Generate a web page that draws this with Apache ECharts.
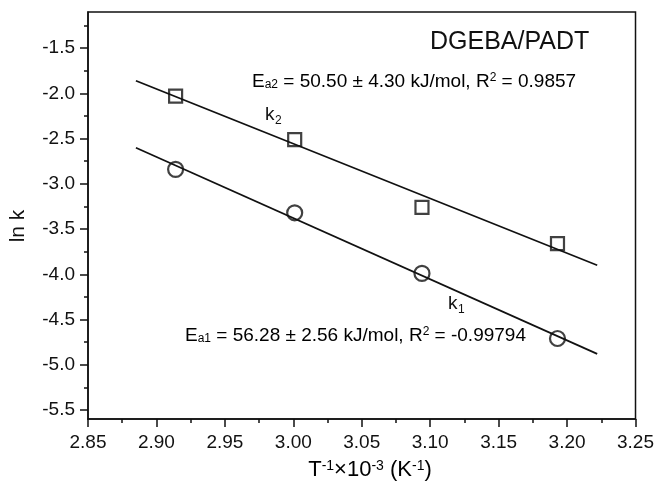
<!DOCTYPE html>
<html>
<head>
<meta charset="utf-8">
<script src="https://cdn.jsdelivr.net/npm/echarts@6/dist/echarts.min.js"></script>
<style>
  html, body { margin: 0; padding: 0; background: #fff; }
  #chart { width: 657px; height: 489px; }
</style>
</head>
<body>
<div id="chart"></div>
<script>
// ln k vs 1/T, DGEBA/PADT
var invT = [2.914, 3.001, 3.094, 3.193];
var lnK1 = [-2.84, -3.32, -3.99, -4.71];
var lnK2 = [-2.03, -2.51, -3.26, -3.66];
var fitX = [2.885, 3.222];
var fitK1 = [-2.60, -4.88];
var fitK2 = [-1.86, -3.90];
var yMajor = [-5.5, -5.0, -4.5, -4.0, -3.5, -3.0, -2.5, -2.0, -1.5];
var yMinor = [-5.25, -4.75, -4.25, -3.75, -3.25, -2.75, -2.25, -1.75, -1.25];

(function () {
  var ink = '#111';
  var font = '"Liberation Sans", Arial, sans-serif';

  function pairs(xs, ys) {
    return xs.map(function (x, i) { return [x, ys[i]]; });
  }

  var rich = {
    n: { fontSize: 19, fontFamily: font, color: ink },
    sub: { fontSize: 12, fontFamily: font, color: ink, verticalAlign: 'bottom' },
    sup: { fontSize: 12, fontFamily: font, color: ink, verticalAlign: 'top' }
  };
  var richBig = {
    n: { fontSize: 22, fontFamily: font, color: ink },
    sup: { fontSize: 14, fontFamily: font, color: ink, verticalAlign: 'top' }
  };

  // k label with a lowered subscript
  function kLabel(x, y, idx) {
    return {
      type: 'group', left: x, top: y,
      children: [
        { type: 'text', x: 0, y: 0, style: { text: 'k', font: '19px ' + font, fill: ink } },
        { type: 'text', x: 10, y: 10, style: { text: idx, font: '12px ' + font, fill: ink } }
      ]
    };
  }

  var chart = echarts.init(document.getElementById('chart'), null, { renderer: 'canvas' });
  chart.setOption({
    animation: false,
    backgroundColor: '#fff',
    grid: { left: 88, right: 21, top: 12, bottom: 70, show: true, borderColor: ink, borderWidth: 1.5, containLabel: false },
    xAxis: {
      type: 'value', min: 2.85, max: 3.25, interval: 0.05,
      axisLine: { lineStyle: { color: ink, width: 1.5 } },
      axisTick: { inside: false, length: 8, lineStyle: { color: ink, width: 1.5 } },
      minorTick: { show: true, splitNumber: 2, length: 4, lineStyle: { color: ink, width: 1.5 } },
      splitLine: { show: false },
      axisLabel: { color: ink, fontSize: 19, fontFamily: font, margin: 14, formatter: function (v) { return v.toFixed(2); } }
    },
    yAxis: [{
      type: 'value', min: -5.6, max: -1.1,
      axisLine: { show: true, lineStyle: { color: ink, width: 1.5 } },
      axisTick: { show: true, inside: false, length: 8, customValues: yMajor, lineStyle: { color: ink, width: 1.5 } },
      splitLine: { show: false },
      axisLabel: { color: ink, fontSize: 19, fontFamily: font, margin: 13, customValues: yMajor, formatter: function (v) { return v.toFixed(1); } }
    }, {
      type: 'value', min: -5.6, max: -1.1, position: 'left',
      axisLine: { show: false },
      axisTick: { show: true, inside: false, length: 4, customValues: yMinor, lineStyle: { color: ink, width: 1.5 } },
      splitLine: { show: false },
      axisLabel: { show: false }
    }],
    series: [
      {
        name: 'k2 fit', type: 'line', data: pairs(fitX, fitK2), showSymbol: false, silent: true,
        lineStyle: { color: ink, width: 1.7 }
      },
      {
        name: 'k1 fit', type: 'line', data: pairs(fitX, fitK1), showSymbol: false, silent: true,
        lineStyle: { color: ink, width: 1.7 }
      },
      {
        name: 'k2', type: 'scatter', data: pairs(invT, lnK2), symbol: 'rect', symbolSize: 13,
        itemStyle: { color: '#fff', borderColor: ink, borderWidth: 2.2 }
      },
      {
        name: 'k1', type: 'scatter', data: pairs(invT, lnK1), symbol: 'circle', symbolSize: 15,
        itemStyle: { color: '#fff', borderColor: ink, borderWidth: 2.2 }
      }
    ],
    graphic: [
      { type: 'text', left: 430, top: 30, style: { text: 'DGEBA/PADT', font: '25px ' + font, fill: ink } },
      { type: 'text', left: 252, top: 72, style: { text: '{n|E}{sub|a2}{n| = 50.50 ± 4.30 kJ/mol, R}{sup|2}{n| = 0.9857}', rich: rich } },
      kLabel(265, 105, '2'),
      kLabel(448, 294, '1'),
      { type: 'text', left: 185, top: 326, style: { text: '{n|E}{sub|a1}{n| = 56.28 ± 2.56 kJ/mol, R}{sup|2}{n| = -0.99794}', rich: rich } },
      { type: 'text', x: 18, y: 226, rotation: Math.PI / 2, style: { text: 'ln k', font: '21px ' + font, fill: ink, align: 'center', verticalAlign: 'middle' } },
      { type: 'text', x: 370, y: 470, style: { text: '{n|T}{sup|-1}{n|×10}{sup|-3}{n| (K}{sup|-1}{n|)}', rich: richBig, align: 'center', verticalAlign: 'middle' } }
    ]
  });
  window.addEventListener('resize', function () { chart.resize(); });
})();
</script>
</body>
</html>
